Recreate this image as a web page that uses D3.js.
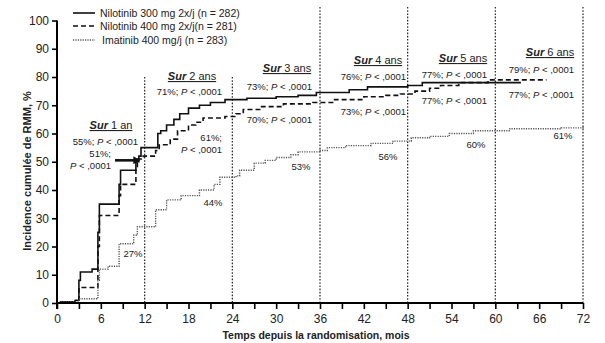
<!DOCTYPE html>
<html>
<head>
<meta charset="utf-8">
<script src="https://cdn.jsdelivr.net/npm/d3@7"></script>
<style>
  body { margin: 0; background: #fff; }
  text { font-family: "Liberation Sans", Arial, sans-serif; fill: #222; }
</style>
</head>
<body>
<script>
// series: [month, cumulative %]
var nilo300 = [[0,0],[0.5,0.4],[2.5,1],[3,8],[3.2,11],[4.8,12],[5.6,25],[5.8,35],[8.5,42],[8.7,47],[10.8,50],[11.2,52],[11.5,55],[13.8,60],[14.2,61],[15,63],[16,65],[16.8,67],[18,69],[19.5,70],[21,71],[23,72],[26,72.5],[30,73],[33,73.5],[35.5,74.5],[40,75.5],[42.5,76.5],[48,77],[50,78],[63.5,78]];
var nilo400 = [[0,0],[0.5,0.4],[2.5,1],[3,5.5],[5.6,20],[5.8,31],[8.5,38],[8.7,42],[10.8,48],[11,51],[11.8,52],[13.5,54],[14,56],[15.5,58],[16.5,61],[18,63],[19,64],[20,65.5],[23,66],[24.5,67],[25.5,68.5],[28,69.5],[31,70.5],[35,71],[38,72],[42,73],[45,73.5],[47,74],[49,75],[51,76],[52.5,77],[55,78],[59,79],[67,79]];
var imatinib = [[0,0],[0.5,0.4],[3,1.5],[5.6,8],[5.8,12],[7,13],[8.5,21],[10.5,24],[11,27],[13.5,33],[15,36.5],[17,38],[19.5,40],[21.5,42],[22.3,44.5],[24.5,45],[25,47],[27,49.5],[28.5,50.5],[30,51.5],[32,52.5],[33,53.5],[36,54],[37,55],[39.5,55.7],[43,56.5],[46,57.3],[48.5,58.5],[51,59],[53.7,60],[57,61],[62,61.7],[69,62],[72,62.5]];

var seriesNames = ["Nilotinib 300 mg 2x/j (n = 282)", "Nilotinib 400 mg 2x/j(n = 281)", "Imatinib 400 mg/j (n = 283)"];
var xTickLabels = [0, 6, 12, 18, 24, 30, 36, 42, 48, 54, 60, 66, 72];
var yTickLabels = [0, 10, 20, 30, 40, 50, 60, 70, 80, 90, 100];
var yearMonths = [12, 24, 36, 48, 60, 72];
var yearLabels = ["1 an", "2 ans", "3 ans", "4 ans", "5 ans", "6 ans"];
var pctNilo300 = ["55%", "71%", "73%", "76%", "77%", "79%"];
var pctNilo400 = ["51%", "61%", "70%", "73%", "77%", "77%"];
var pctImatinib = ["27%", "44%", "53%", "56%", "60%", "61%"];

var width = 605, height = 343;
var svg = d3.select("body").append("svg")
    .attr("width", width)
    .attr("height", height);

var x = d3.scaleLinear().domain([0, 72]).range([57, 583]);
var y = d3.scaleLinear().domain([0, 100]).range([303, 20.5]);

// vertical year lines
svg.append("g").selectAll("line")
    .data(yearMonths)
    .join("line")
    .attr("x1", d => x(d)).attr("x2", d => x(d))
    .attr("y1", d => d <= 24 ? 77 : 7)
    .attr("y2", y(0))
    .attr("stroke", "#222")
    .attr("stroke-width", 1.2)
    .attr("stroke-dasharray", "1.6,1.6");

// curves
var line = d3.line()
    .x(d => x(d[0]))
    .y(d => y(d[1]))
    .curve(d3.curveStepAfter);

var styles = [
    { data: nilo300, dash: null, w: 1.6, color: "#111" },
    { data: nilo400, dash: "5,3", w: 1.6, color: "#111" },
    { data: imatinib, dash: "1.2,1.2", w: 1.4, color: "#555" }
];

svg.append("g").selectAll("path")
    .data(styles)
    .join("path")
    .attr("d", d => line(d.data))
    .attr("fill", "none")
    .attr("stroke", d => d.color)
    .attr("stroke-width", d => d.w)
    .attr("stroke-dasharray", d => d.dash);

// axes
var xAxis = svg.append("g")
    .attr("transform", "translate(0," + y(0) + ")")
    .call(d3.axisBottom(x).tickValues(d3.range(0, 73, 3)).tickSize(6).tickFormat(d => xTickLabels.includes(d) ? d : ""));
xAxis.select(".domain").attr("stroke-width", 2).attr("d", "M" + x(0) + ",0H" + x(72));
xAxis.selectAll(".tick line").attr("stroke-width", 1.6);
xAxis.selectAll(".tick text").attr("font-size", 12).attr("dy", "0.9em").attr("fill", "#222")
    .attr("font-family", "Liberation Sans, Arial, sans-serif");

var yAxis = svg.append("g")
    .attr("transform", "translate(" + x(0) + ",0)")
    .call(d3.axisLeft(y).tickValues(yTickLabels).tickSize(5).tickPadding(3));
yAxis.select(".domain").attr("stroke-width", 2).attr("d", "M0," + y(100) + "V" + (y(0) + 6));
yAxis.selectAll(".tick line").attr("stroke-width", 1.6);
yAxis.selectAll(".tick text").attr("font-size", 12).attr("fill", "#222")
    .attr("font-family", "Liberation Sans, Arial, sans-serif");

svg.append("text")
    .attr("x", 316).attr("y", 339)
    .attr("text-anchor", "middle")
    .attr("font-size", 10.5).attr("font-weight", "bold")
    .text("Temps depuis la randomisation, mois");

svg.append("text")
    .attr("transform", "translate(31,171) rotate(-90)")
    .attr("text-anchor", "middle")
    .attr("font-size", 11).attr("font-weight", "bold")
    .text("Incidence cumulée de RMM, %");

// legend
var legend = svg.append("g").selectAll("g")
    .data(styles)
    .join("g")
    .attr("transform", (d, i) => "translate(73," + [13, 26, 40][i] + ")");
legend.append("line")
    .attr("x1", 0).attr("x2", 22)
    .attr("stroke", d => d.color)
    .attr("stroke-width", d => d.w)
    .attr("stroke-dasharray", d => d.dash);
legend.append("text")
    .attr("x", (d, i) => i === 2 ? 29 : 27).attr("dy", "0.35em")
    .attr("font-size", 10.5)
    .text((d, i) => seriesNames[i]);

// annotations (layout per year column)
var annot = [
    { sx: 111, sy: 129, t: [138, 145], b: null },
    { sx: 192, sy: 80, t: [222, 95], b: [222, 141] },
    { sx: 287, sy: 72, t: [312, 90], b: [312, 123] },
    { sx: 378, sy: 64, t: [406, 80], b: [406, 115] },
    { sx: 463, sy: 62, t: [487, 78], b: [487, 104] },
    { sx: 550, sy: 56, t: [574, 73], b: [574, 98] }
];
var imaPos = [[133, 257], [213, 206], [301, 170], [388, 160], [476, 148], [563, 139]];
var fs = 9.5;

function pText(g, xx, yy, pct, anchor) {
    var t = g.append("text").attr("x", xx).attr("y", yy)
        .attr("text-anchor", anchor).attr("font-size", fs);
    t.append("tspan").text(pct + "; ");
    t.append("tspan").attr("font-style", "italic").text("P");
    t.append("tspan").text(" < ,0001");
    return t;
}

var ag = svg.append("g");
annot.forEach(function (a, i) {
    var s = ag.append("text").attr("x", a.sx).attr("y", a.sy)
        .attr("text-anchor", "middle").attr("font-size", 11)
        .attr("text-decoration", "underline");
    s.append("tspan").attr("font-weight", "bold").attr("font-style", "italic").text("Sur");
    s.append("tspan").text(" " + yearLabels[i]);

    pText(ag, a.t[0], a.t[1], pctNilo300[i], "end");
    if (a.b) {
        if (i === 1) {
            ag.append("text").attr("x", a.b[0]).attr("y", a.b[1]).attr("text-anchor", "end")
                .attr("font-size", fs).text(pctNilo400[i] + ";");
            var p = ag.append("text").attr("x", a.b[0]).attr("y", a.b[1] + 12).attr("text-anchor", "end")
                .attr("font-size", fs);
            p.append("tspan").attr("font-style", "italic").text("P");
            p.append("tspan").text(" < ,0001");
        } else {
            pText(ag, a.b[0], a.b[1], pctNilo400[i], "end");
        }
    }
    ag.append("text").attr("x", imaPos[i][0]).attr("y", imaPos[i][1])
        .attr("text-anchor", "middle").attr("font-size", fs)
        .text(pctImatinib[i]);
});

// 1-year Nilotinib 400 label with arrow
ag.append("text").attr("x", 111).attr("y", 157).attr("text-anchor", "end")
    .attr("font-size", fs).text(pctNilo400[0] + ";");
var p1 = ag.append("text").attr("x", 111).attr("y", 169).attr("text-anchor", "end").attr("font-size", fs);
p1.append("tspan").attr("font-style", "italic").text("P");
p1.append("tspan").text(" < ,0001");

var ay = y(50.5);
ag.append("line")
    .attr("x1", 115).attr("x2", 134)
    .attr("y1", ay).attr("y2", ay)
    .attr("stroke", "#111").attr("stroke-width", 2.6);
ag.append("path")
    .attr("d", "M" + x(11.4) + "," + ay + "l-7,-4l0,8z")
    .attr("fill", "#111");
</script>
</body>
</html>
